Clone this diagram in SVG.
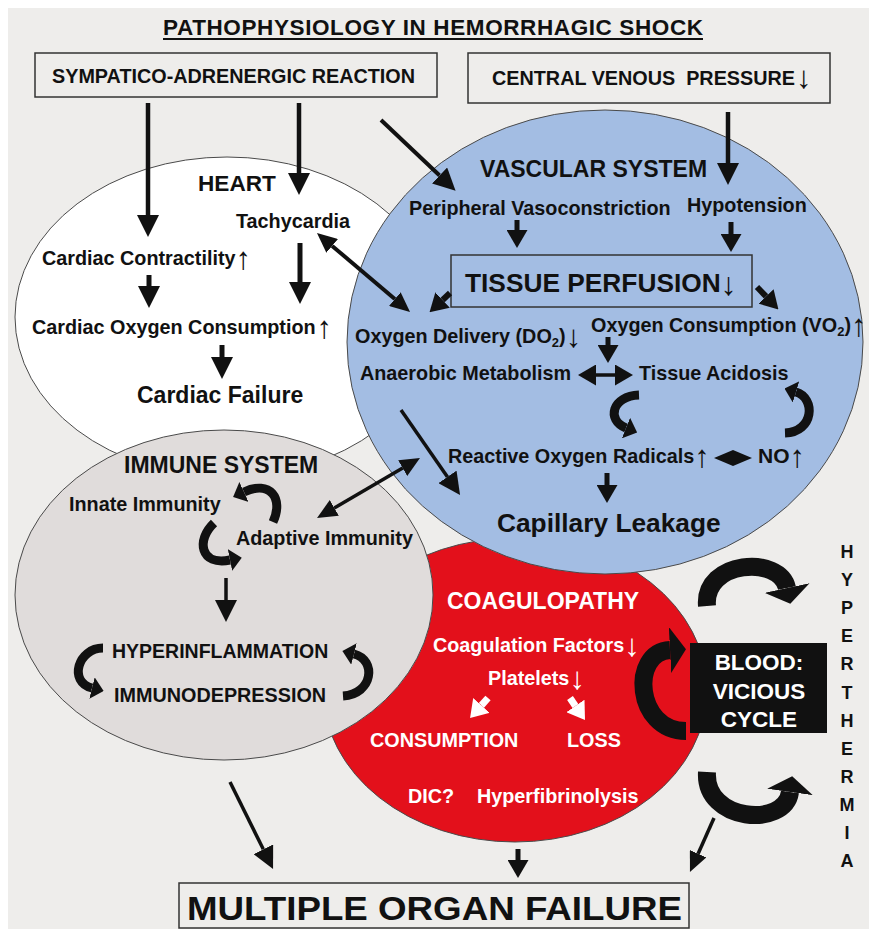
<svg xmlns="http://www.w3.org/2000/svg" width="869" height="929" viewBox="0 0 869 929">
<defs>
<style>
.t{font-family:"Liberation Sans",Arial,Helvetica,sans-serif;font-weight:bold;fill:#111}
.s{font-size:19.8px}
.h{font-size:23px}
.w{fill:#fff}
.ag{font-family:"Liberation Sans",Arial,sans-serif;font-weight:normal;font-size:31px}
.shape{stroke:#4a4a4a;stroke-width:1}
.box{fill:none;stroke:#333;stroke-width:1.5}
.c{stroke:#111;fill:none}
.cw{stroke:#fff;fill:none}
</style>
<marker id="ah" viewBox="0 0 10 10" refX="0" refY="5" markerWidth="22" markerHeight="22" markerUnits="userSpaceOnUse" orient="auto-start-reverse" preserveAspectRatio="none"><path d="M0,0L10,5L0,10z" fill="#111"/></marker>
<marker id="ahs" viewBox="0 0 10 10" refX="0" refY="5" markerWidth="20" markerHeight="18" markerUnits="userSpaceOnUse" orient="auto-start-reverse" preserveAspectRatio="none"><path d="M0,0L10,5L0,10z" fill="#111"/></marker>
<marker id="ahm" viewBox="0 0 10 10" refX="0" refY="5" markerWidth="18" markerHeight="21" markerUnits="userSpaceOnUse" orient="auto-start-reverse" preserveAspectRatio="none"><path d="M0,0L10,5L0,10z" fill="#111"/></marker>
<marker id="ahw" viewBox="0 0 10 10" refX="0" refY="5" markerWidth="17" markerHeight="22" markerUnits="userSpaceOnUse" orient="auto" preserveAspectRatio="none"><path d="M0,0L10,5L0,10z" fill="#fff"/></marker>
<marker id="ahc" viewBox="0 0 10 10" refX="0" refY="5" markerWidth="12" markerHeight="22" markerUnits="userSpaceOnUse" orient="auto" preserveAspectRatio="none"><path d="M0,0L10,5L0,10z" fill="#111"/></marker>
<marker id="ahb" viewBox="0 0 10 10" refX="0" refY="5" markerWidth="16" markerHeight="46" markerUnits="userSpaceOnUse" orient="auto" preserveAspectRatio="none"><path d="M0,0L10,5L0,10z" fill="#111"/></marker>
</defs>

<rect x="0" y="0" width="869" height="929" fill="#ffffff"/>
<rect x="8" y="8" width="861" height="921" fill="#eeedeb"/>

<g id="title">
<text class="t" x="163" y="35" font-size="22.5" textLength="540" lengthAdjust="spacing">PATHOPHYSIOLOGY IN HEMORRHAGIC SHOCK</text>
<line x1="163" y1="39" x2="703" y2="39" stroke="#111" stroke-width="2.2"/>
</g>

<g id="sympatico">
<rect class="box" x="35" y="53" width="402" height="44"/>
<text class="t s" x="52" y="83">SYMPATICO-ADRENERGIC REACTION</text>
</g>

<g id="cvp">
<rect class="box" x="468" y="53" width="362" height="50"/>
<text class="t s" x="492" y="85" xml:space="preserve" style="white-space:pre">CENTRAL VENOUS  PRESSURE<tspan class="ag" dx="1" dy="3">↓</tspan></text>
</g>

<g id="heart">
<ellipse class="shape" cx="227" cy="317" rx="212" ry="160" fill="#ffffff"/>
<text class="t" x="198" y="191" font-size="22.6">HEART</text>
<text class="t s" x="236" y="228">Tachycardia</text>
<text class="t s" x="42" y="265">Cardiac Contractility<tspan class="ag" dx="0" dy="4">↑</tspan></text>
<text class="t s" x="32" y="334">Cardiac Oxygen Consumption<tspan class="ag" dx="1" dy="4">↑</tspan></text>
<text class="t h" x="137" y="403">Cardiac Failure</text>
</g>

<g id="coagulopathy">
<ellipse class="shape" cx="515" cy="690" rx="192" ry="152" fill="#e3101b"/>
<text class="t h w" x="447" y="609">COAGULOPATHY</text>
<text class="t s w" x="433" y="652">Coagulation Factors<tspan class="ag" dx="0" dy="4">↓</tspan></text>
<text class="t s w" x="488" y="685">Platelets<tspan class="ag" dx="0" dy="4">↓</tspan></text>
<text class="t s w" x="370" y="747">CONSUMPTION</text>
<text class="t s w" x="567" y="747">LOSS</text>
<text class="t s w" x="408" y="803">DIC?</text>
<text class="t s w" x="477" y="803">Hyperfibrinolysis</text>
</g>

<g id="immune">
<ellipse class="shape" cx="224" cy="595" rx="209" ry="165" fill="#e0dcdb"/>
<text class="t h" x="124" y="473">IMMUNE SYSTEM</text>
<text class="t s" x="69" y="511">Innate Immunity</text>
<text class="t s" x="236" y="545">Adaptive Immunity</text>
<text class="t" x="112" y="658" font-size="19.5">HYPERINFLAMMATION</text>
<text class="t s" x="114" y="702">IMMUNODEPRESSION</text>
</g>

<g id="vascular">
<ellipse class="shape" cx="605" cy="342" rx="258" ry="232" fill="#a3bde3"/>
<text class="t h" x="480" y="177">VASCULAR SYSTEM</text>
<text class="t s" x="409" y="215">Peripheral Vasoconstriction</text>
<text class="t s" x="687" y="212">Hypotension</text>
<rect class="box" x="451" y="255" width="301" height="52"/>
<text class="t" x="465" y="292" font-size="26.3">TISSUE PERFUSION<tspan font-weight="normal" font-size="32" dy="3">↓</tspan></text>
<text class="t s" x="355" y="343">Oxygen Delivery (DO<tspan font-size="13" dy="4">2</tspan><tspan dy="-4">)</tspan><tspan class="ag" dx="0" dy="4">↓</tspan></text>
<text class="t s" x="591" y="332">Oxygen Consumption (VO<tspan font-size="13" dy="4">2</tspan><tspan dy="-4">)</tspan><tspan class="ag" dx="0" dy="4">↑</tspan></text>
<text class="t s" x="360" y="380">Anaerobic Metabolism</text>
<text class="t s" x="639" y="380">Tissue Acidosis</text>
<text class="t s" x="448" y="463">Reactive Oxygen Radicals<tspan class="ag" dx="0" dy="4">↑</tspan></text>
<text class="t" x="758" y="463" font-size="21">NO<tspan class="ag" dx="0" dy="4">↑</tspan></text>
<text class="t" x="497" y="532" font-size="26.3">Capillary Leakage</text>
</g>

<g id="blood">
<rect x="690" y="643" width="137" height="90" fill="#111"/>
<text class="t w" font-size="22.5" text-anchor="middle"><tspan x="759" y="670">BLOOD:</tspan><tspan x="759" y="699">VICIOUS</tspan><tspan x="759" y="727">CYCLE</tspan></text>
</g>

<g id="hyperthermia">
<text class="t" font-size="18" text-anchor="middle"><tspan x="847" y="558">H</tspan><tspan x="847" y="586">Y</tspan><tspan x="847" y="614">P</tspan><tspan x="847" y="642">E</tspan><tspan x="847" y="670">R</tspan><tspan x="847" y="699">T</tspan><tspan x="847" y="727">H</tspan><tspan x="847" y="755">E</tspan><tspan x="847" y="783">R</tspan><tspan x="847" y="811">M</tspan><tspan x="847" y="839">I</tspan><tspan x="847" y="867">A</tspan></text>
</g>

<g id="mof">
<rect class="box" x="179" y="883" width="510" height="45"/>
<text class="t" x="187" y="920" font-size="34" textLength="495" lengthAdjust="spacingAndGlyphs">MULTIPLE ORGAN FAILURE</text>
</g>

<g id="connectors">
<path class="c" stroke-width="4.5" marker-end="url(#ah)" d="M148,103V215"/>
<path class="c" stroke-width="4.5" marker-end="url(#ah)" d="M299,103V173"/>
<path class="c" stroke-width="4" marker-end="url(#ah)" d="M381,120L439.6,175.5"/>
<path class="c" stroke-width="4.5" marker-end="url(#ah)" d="M728,112V163"/>
<path class="c" stroke-width="5" marker-end="url(#ah)" d="M149,275V286"/>
<path class="c" stroke-width="5" marker-end="url(#ah)" d="M300,243V282"/>
<path class="c" stroke-width="5" marker-end="url(#ah)" d="M222,345V357"/>
<path class="c" stroke-width="4" marker-start="url(#ahs)" marker-end="url(#ahs)" d="M332.2,245.9L394.8,299.1"/>
<path class="c" stroke-width="5" marker-end="url(#ahm)" d="M517,220V230"/>
<path class="c" stroke-width="5" marker-end="url(#ahm)" d="M731,222V234"/>
<path class="c" stroke-width="6" marker-end="url(#ahm)" d="M450,293L442.6,300"/>
<path class="c" stroke-width="6" marker-end="url(#ahm)" d="M757,287L766,296.4"/>
<path class="c" stroke-width="5" marker-end="url(#ahm)" d="M608,337V345"/>
<path class="c" stroke-width="3.5" marker-start="url(#ahm)" marker-end="url(#ahm)" d="M596,375H615"/>
<path class="c" stroke-width="5" marker-end="url(#ahm)" d="M607,473V485"/>
<path class="c" stroke-width="3.5" marker-end="url(#ah)" d="M401,410L447.5,476.9"/>
<path fill="#111" d="M714,458L733,450L752,458L733,466Z"/>
<path class="c" stroke-width="3.5" marker-start="url(#ahs)" marker-end="url(#ahs)" d="M334.3,507.9L402.7,468.1"/>
<path class="c" stroke-width="3.5" marker-end="url(#ah)" d="M226,578V600"/>
<path class="cw" stroke-width="7" marker-end="url(#ahw)" d="M488,698L481.4,705.4"/>
<path class="cw" stroke-width="7" marker-end="url(#ahw)" d="M570,698L575.4,705.9"/>
<path class="c" stroke-width="3.5" marker-end="url(#ah)" d="M230,782L263.3,849.3"/>
<path class="c" stroke-width="5" marker-end="url(#ahm)" d="M518,849V860"/>
<path class="c" stroke-width="3.5" marker-end="url(#ahs)" d="M714,818L698.1,853.7"/>
<path class="c" stroke-width="9" marker-end="url(#ahc)" d="M639,395C612,396 606,420 626,428"/>
<path class="c" stroke-width="9" marker-end="url(#ahc)" d="M785,433C814,432 816,398 796,392"/>
<path class="c" stroke-width="9" marker-end="url(#ahc)" d="M273,522C284,498 270,480 244,492"/>
<path class="c" stroke-width="9" marker-end="url(#ahc)" d="M214,523C196,540 200,566 230,560"/>
<path class="c" stroke-width="9" marker-end="url(#ahc)" d="M103,648C78,648 68,682 92,688"/>
<path class="c" stroke-width="9" marker-end="url(#ahc)" d="M343,696C373,694 377,660 354,654"/>
<path class="c" stroke-width="18" marker-end="url(#ahb)" d="M686,731C635,731 630,652 670,650"/>
<path class="c" stroke-width="18" marker-end="url(#ahb)" d="M707,606C703,560 780,555 787,588"/>
<path class="c" stroke-width="18" marker-end="url(#ahb)" d="M707,772C704,822 785,828 790,792"/>
</g>
</svg>
